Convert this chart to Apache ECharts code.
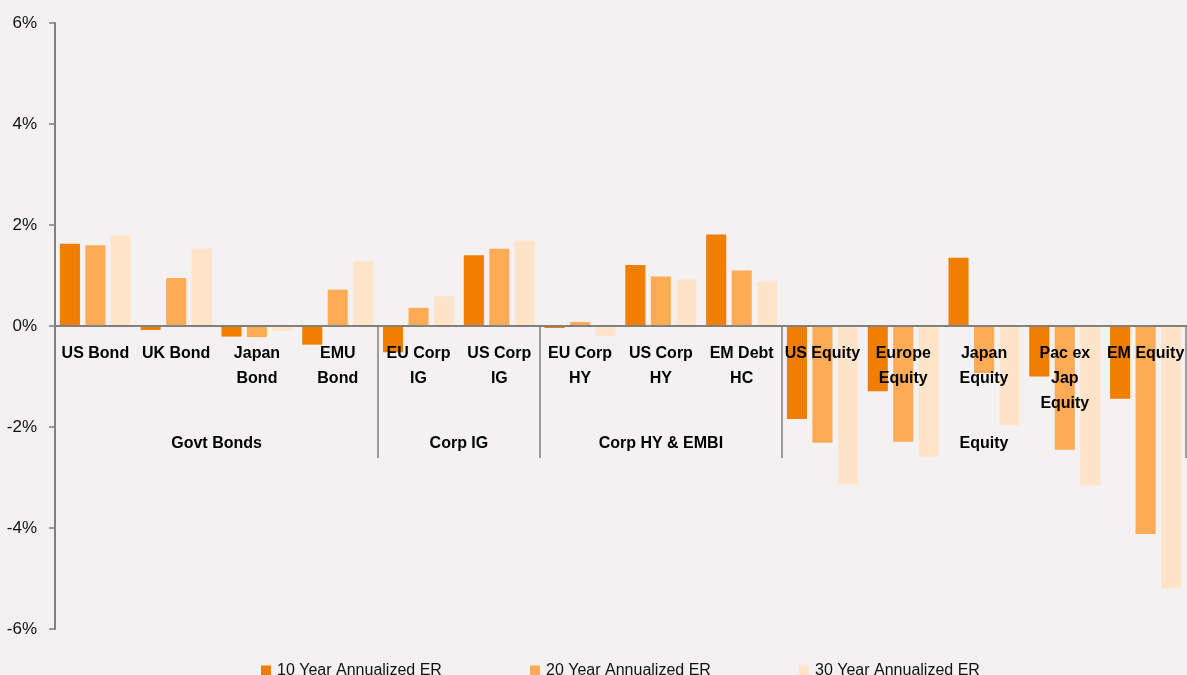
<!DOCTYPE html>
<html lang="en">
<head>
    <meta charset="UTF-8">
    <title>Annualized ER by asset class</title>
    <script src="https://cdn.jsdelivr.net/npm/echarts@6/dist/echarts.min.js"></script>
    <style>
        html, body { margin: 0; padding: 0; background: #f3f1f2; }
        #chart { width: 1187px; height: 675px; }
    </style>
</head>
<body>
<div id="chart"></div>
<script>
    // data
    var categories = ["US Bond", "UK Bond", "Japan\nBond", "EMU\nBond", "EU Corp\nIG", "US Corp\nIG",
        "EU Corp\nHY", "US Corp\nHY", "EM Debt\nHC", "US Equity", "Europe\nEquity", "Japan\nEquity",
        "Pac ex\nJap\nEquity", "EM Equity"];
    var er10 = [1.63, -0.08, -0.21, -0.37, -0.52, 1.40, -0.04, 1.21, 1.81, -1.84, -1.29, 1.35, -1.00, -1.44];
    var er20 = [1.60, 0.95, -0.22, 0.72, 0.36, 1.53, 0.08, 0.98, 1.10, -2.31, -2.29, -0.93, -2.45, -4.12];
    var er30 = [1.79, 1.53, -0.10, 1.28, 0.59, 1.69, -0.19, 0.92, 0.88, -3.14, -2.59, -1.96, -3.16, -5.20];
    var groupNames = ["Govt Bonds", "Corp IG", "Corp HY & EMBI", "Equity"];
    var groupCenters = [2, 5, 7.5, 11.5];
    var groupEdges = [4, 6, 9, 14];
    var seriesNames = ["10 Year Annualized ER", "20 Year Annualized ER", "30 Year Annualized ER"];
    var colors = ["#f07e00", "#fdab55", "#ffe4c9"];

    var font = "'Liberation Sans', Arial, sans-serif";
    var axisGray = "#808080";

    var chart = echarts.init(document.getElementById("chart"));

    function legendAt(i, left) {
        return {
            data: [seriesNames[i]], left: left, top: 655,
            icon: "rect", itemWidth: 10, itemHeight: 11, itemGap: 0,
            textStyle: {fontFamily: font, fontSize: 16, color: "#111", lineHeight: 22, padding: [0, 0, 0, 1]},
            selectedMode: false
        };
    }

    // bars live in grid 0; grids 1 and 2 end at the zero line and only carry the labels
    var gridBase = {left: 55, right: 1, top: 23, outerBoundsMode: "none", containLabel: false};
    var hiddenY = function (g) {
        return {type: "value", gridIndex: g, min: 0, max: 1, show: false};
    };

    chart.setOption({
        backgroundColor: "#f3f1f2",
        animation: false,
        color: colors,
        legend: [legendAt(0, 256), legendAt(1, 525), legendAt(2, 794)],
        grid: [
            Object.assign({}, gridBase, {bottom: 46}),
            Object.assign({}, gridBase, {bottom: 349}),
            Object.assign({}, gridBase, {bottom: 349})
        ],
        xAxis: [{
            type: "category", gridIndex: 0, data: categories,
            axisLine: {show: false}, axisTick: {show: false}, axisLabel: {show: false}
        }, {
            type: "category", gridIndex: 1, data: categories, z: 10,
            axisLine: {onZero: false, lineStyle: {color: axisGray, width: 2}},
            axisTick: {show: false},
            axisLabel: {
                interval: 0, margin: 15, fontFamily: font, fontSize: 16, fontWeight: "bold",
                color: "#000", lineHeight: 25
            }
        }, {
            type: "value", gridIndex: 2, min: 0, max: 14, position: "bottom", z: 10,
            axisLine: {show: false, onZero: false},
            splitLine: {show: false},
            axisTick: {show: true, length: 132, customValues: groupEdges,
                lineStyle: {color: axisGray, width: 1.5}},
            axisLabel: {
                customValues: groupCenters, margin: 105, fontFamily: font, fontSize: 16,
                fontWeight: "bold", color: "#000", lineHeight: 25,
                formatter: function (v) { return groupNames[groupCenters.indexOf(v)]; }
            }
        }],
        yAxis: [{
            type: "value", gridIndex: 0, min: -6, max: 6, interval: 2,
            axisLine: {show: true, lineStyle: {color: axisGray, width: 2}},
            axisTick: {show: true, length: 6, lineStyle: {color: axisGray, width: 1.5}},
            splitLine: {show: false},
            axisLabel: {
                margin: 18, fontFamily: font, fontSize: 17, color: "#111",
                formatter: function (v) { return v + "%"; }
            }
        }, hiddenY(1), hiddenY(2)],
        series: [er10, er20, er30].map(function (d, i) {
            return {
                name: seriesNames[i], type: "bar", data: d,
                xAxisIndex: 0, yAxisIndex: 0, z: 2,
                barCategoryGap: "12%", barGap: "27%",
                itemStyle: {color: colors[i]}
            };
        })
    });
</script>
</body>
</html>
